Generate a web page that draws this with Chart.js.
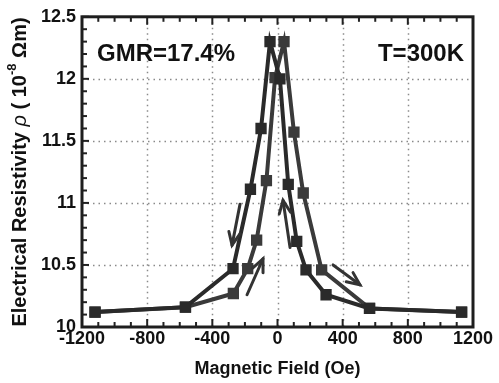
<!DOCTYPE html>
<html><head><meta charset="utf-8">
<script src="https://cdn.jsdelivr.net/npm/chart.js@4"></script>
<style>html,body{margin:0;padding:0;background:#fff}</style>
</head><body>
<canvas id="c" width="499" height="383"></canvas>
<script>
// Branch 1 (outer left, inner right)
const branch1Field = [-1120, -565, -273, -166, -101, -46, 15, 66, 118, 175, 298, 565, 1130];
const branch1Rho   = [10.12, 10.16, 10.47, 11.11, 11.60, 12.30, 12.00, 11.15, 10.69, 10.46, 10.26, 10.15, 10.12];
// Branch 2 (inner left, outer right)
const branch2Field = [-1120, -565, -271, -183, -128, -68, -15, 40, 101, 158, 271, 565, 1130];
const branch2Rho   = [10.12, 10.16, 10.27, 10.47, 10.70, 11.18, 12.01, 12.30, 11.57, 11.08, 10.46, 10.15, 10.12];

const xTickValues = [-1200, -800, -400, 0, 400, 800, 1200];
const yTickValues = [10, 10.5, 11, 11.5, 12, 12.5];

// sweep-direction arrows (data units)
const arrowStartField = [-230, -187, 77, 341];
const arrowStartRho   = [10.99, 10.26, 10.64, 10.50];
const arrowEndField   = [-279, -89, 34, 506];
const arrowEndRho     = [10.66, 10.55, 11.02, 10.34];

const gmrLabel = 'GMR=17.4%';
const tempLabel = 'T=300K';
const xTitle = 'Magnetic Field (Oe)';

const FONT = "'Liberation Sans', Arial, sans-serif";

function toPts(xs, ys) { return xs.map((x, i) => ({x: x, y: ys[i]})); }

const decor = {
  id: 'decor',
  beforeDatasetsDraw(chart) {
    const {ctx, chartArea: a, scales: {x, y}} = chart;
    ctx.save();
    ctx.strokeStyle = '#8a8a8a';
    ctx.lineWidth = 1.5;
    ctx.setLineDash([1.5, 4]);
    xTickValues.forEach(v => {
      if (v <= x.min || v >= x.max) return;
      const px = Math.round(x.getPixelForValue(v)) + 0.5;
      ctx.beginPath(); ctx.moveTo(px, a.top); ctx.lineTo(px, a.bottom); ctx.stroke();
    });
    yTickValues.forEach(v => {
      if (v <= y.min || v >= y.max) return;
      const py = Math.round(y.getPixelForValue(v)) + 0.5;
      ctx.beginPath(); ctx.moveTo(a.left, py); ctx.lineTo(a.right, py); ctx.stroke();
    });
    ctx.restore();
  },
  afterDatasetsDraw(chart) {
    const {ctx, chartArea: a, scales: {x, y}} = chart;
    ctx.save();
    // arrows
    ctx.strokeStyle = '#333';
    ctx.lineWidth = 3;
    ctx.lineCap = 'round';
    for (let i = 0; i < arrowStartField.length; i++) {
      const x0 = x.getPixelForValue(arrowStartField[i]), y0 = y.getPixelForValue(arrowStartRho[i]);
      const x1 = x.getPixelForValue(arrowEndField[i]), y1 = y.getPixelForValue(arrowEndRho[i]);
      const ang = Math.atan2(y1 - y0, x1 - x0);
      const L = 14, sp = 0.42;
      ctx.beginPath(); ctx.moveTo(x0, y0); ctx.lineTo(x1, y1); ctx.stroke();
      ctx.beginPath();
      ctx.moveTo(x1 - L * Math.cos(ang - sp), y1 - L * Math.sin(ang - sp));
      ctx.lineTo(x1, y1);
      ctx.lineTo(x1 - L * Math.cos(ang + sp), y1 - L * Math.sin(ang + sp));
      ctx.stroke();
    }
    // inner ticks
    ctx.strokeStyle = '#222';
    ctx.lineWidth = 2;
    ctx.lineCap = 'butt';
    for (let v = -1200; v <= 1200; v += 100) {
      const px = x.getPixelForValue(v);
      const len = (v % 400 === 0) ? 8 : 5;
      ctx.beginPath(); ctx.moveTo(px, a.bottom); ctx.lineTo(px, a.bottom - len); ctx.stroke();
      ctx.beginPath(); ctx.moveTo(px, a.top); ctx.lineTo(px, a.top + len); ctx.stroke();
    }
    for (let k = 100; k <= 125; k++) {
      const py = y.getPixelForValue(k / 10);
      const len = (k % 5 === 0) ? 7 : 5;
      ctx.beginPath(); ctx.moveTo(a.left, py); ctx.lineTo(a.left + len, py); ctx.stroke();
    }
    // frame
    ctx.lineWidth = 3;
    ctx.strokeStyle = '#1e1e1e';
    ctx.strokeRect(a.left, a.top, a.right - a.left, a.bottom - a.top);
    // in-plot labels
    ctx.fillStyle = '#111';
    ctx.font = 'bold 24px ' + FONT;
    ctx.textBaseline = 'alphabetic';
    ctx.textAlign = 'left';
    ctx.fillText(gmrLabel, a.left + 15, a.top + 44);
    ctx.textAlign = 'right';
    ctx.fillText(tempLabel, a.right - 9, a.top + 44);
    // x title
    ctx.textAlign = 'center';
    ctx.textBaseline = 'middle';
    ctx.font = 'bold 18px ' + FONT;
    ctx.fillText(xTitle, (a.left + a.right) / 2, 369);
    // y title (rotated, with italic rho and superscript)
    const parts = [
      {t: 'Electrical Resistivity ', f: 'bold 20px ' + FONT, dy: 0},
      {t: '\u03C1', f: 'italic 20px ' + FONT, dy: 0},
      {t: ' ( 10', f: 'bold 20px ' + FONT, dy: 0},
      {t: '-8', f: 'bold 13px ' + FONT, dy: -8},
      {t: ' \u03A9m)', f: 'bold 20px ' + FONT, dy: 0}
    ];
    let total = 0;
    parts.forEach(p => { ctx.font = p.f; p.w = ctx.measureText(p.t).width; total += p.w; });
    ctx.translate(20, 172);
    ctx.rotate(-Math.PI / 2);
    ctx.textAlign = 'left';
    ctx.textBaseline = 'middle';
    let cx = -total / 2;
    parts.forEach(p => { ctx.font = p.f; ctx.fillText(p.t, cx, p.dy); cx += p.w; });
    ctx.restore();
  }
};

new Chart(document.getElementById('c'), {
  type: 'scatter',
  data: {
    datasets: [
      {data: toPts(branch1Field, branch1Rho), showLine: true, borderColor: '#2a2a2a', backgroundColor: '#2a2a2a',
       borderWidth: 4, pointStyle: 'rect', pointRadius: 8, pointBorderWidth: 0, pointHoverRadius: 8, tension: 0},
      {data: toPts(branch2Field, branch2Rho), showLine: true, borderColor: '#3a3a3a', backgroundColor: '#3a3a3a',
       borderWidth: 4, pointStyle: 'rect', pointRadius: 8, pointBorderWidth: 0, pointHoverRadius: 8, tension: 0}
    ]
  },
  options: {
    responsive: false,
    animation: false,
    devicePixelRatio: 1,
    layout: {padding: {top: 15, right: 26, left: 0, bottom: 0}},
    plugins: {legend: {display: false}, tooltip: {enabled: false}},
    scales: {
      x: {
        type: 'linear', min: -1200, max: 1200,
        afterBuildTicks: s => { s.ticks = xTickValues.map(v => ({value: v})); },
        ticks: {color: '#111', font: {family: FONT, size: 18, weight: 'bold'}, padding: 1, maxRotation: 0, autoSkip: false,
                callback: v => String(v)},
        grid: {display: false, drawTicks: false},
        border: {display: false},
        afterFit: s => { s.height = 56; }
      },
      y: {
        type: 'linear', min: 10, max: 12.5,
        afterBuildTicks: s => { s.ticks = yTickValues.map(v => ({value: v})); },
        ticks: {color: '#111', font: {family: FONT, size: 18, weight: 'bold'}, padding: 6, autoSkip: false,
                callback: v => String(v)},
        grid: {display: false, drawTicks: false},
        border: {display: false},
        afterFit: s => { s.width = 82; }
      }
    }
  },
  plugins: [decor]
});
</script>
</body></html>
